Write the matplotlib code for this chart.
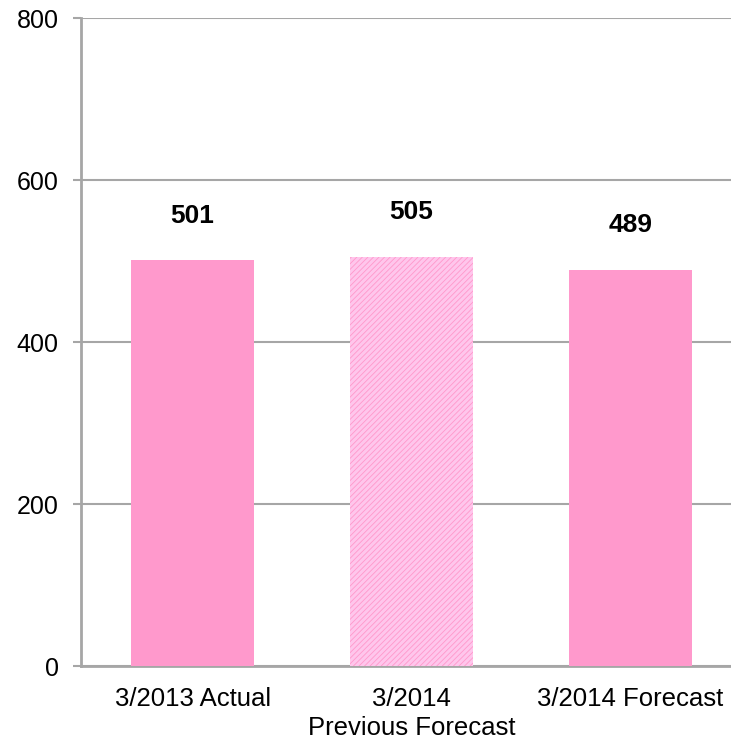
import matplotlib
matplotlib.use("Agg")
import matplotlib.pyplot as plt

categories = ["3/2013 Actual", "3/2014\nPrevious Forecast", "3/2014 Forecast"]
values = [501, 505, 489]
hatched = [False, True, False]
y_ticks = [0, 200, 400, 600, 800]

plt.rcParams['font.family'] = ['Liberation Sans', 'DejaVu Sans']
plt.rcParams['hatch.linewidth'] = 2.2
plt.rcParams['hatch.color'] = '#FFC6EC'

fig = plt.figure(figsize=(7.31, 7.41), dpi=100)
ax = fig.add_axes([81 / 731, 75 / 741, 1 - 81 / 731, 648 / 741])

bar_color = '#FF99CC'
grid_color = '#A6A6A6'

for i, (v, h) in enumerate(zip(values, hatched)):
    if h:
        ax.bar(i, v, width=0.56, color=bar_color, hatch='//////',
               edgecolor='#FFC6EC', linewidth=0, zorder=3)
    else:
        ax.bar(i, v, width=0.56, color=bar_color, linewidth=0, zorder=3)
    ax.annotate(str(v), (i, v), xytext=(0, 27), textcoords='offset points',
                ha='center', va='baseline', fontsize=19, fontweight='bold')

ax.set_xlim(-0.51, 2.46)
ax.set_ylim(0, 800)
ax.set_yticks(y_ticks)
ax.yaxis.grid(True, color=grid_color, linewidth=1.5, zorder=0)
ax.set_axisbelow(True)

ax.set_xticks(range(len(categories)))
ax.set_xticklabels(categories, fontsize=18.5, linespacing=1.27)
ax.tick_params(axis='x', length=0, pad=15)
ax.tick_params(axis='y', length=6, width=1.5, color=grid_color, pad=10, labelsize=18)

for side in ['top', 'right']:
    ax.spines[side].set_visible(False)
for side in ['left', 'bottom']:
    ax.spines[side].set_color(grid_color)
    ax.spines[side].set_linewidth(2)

fig.savefig("out.png", dpi=100)
